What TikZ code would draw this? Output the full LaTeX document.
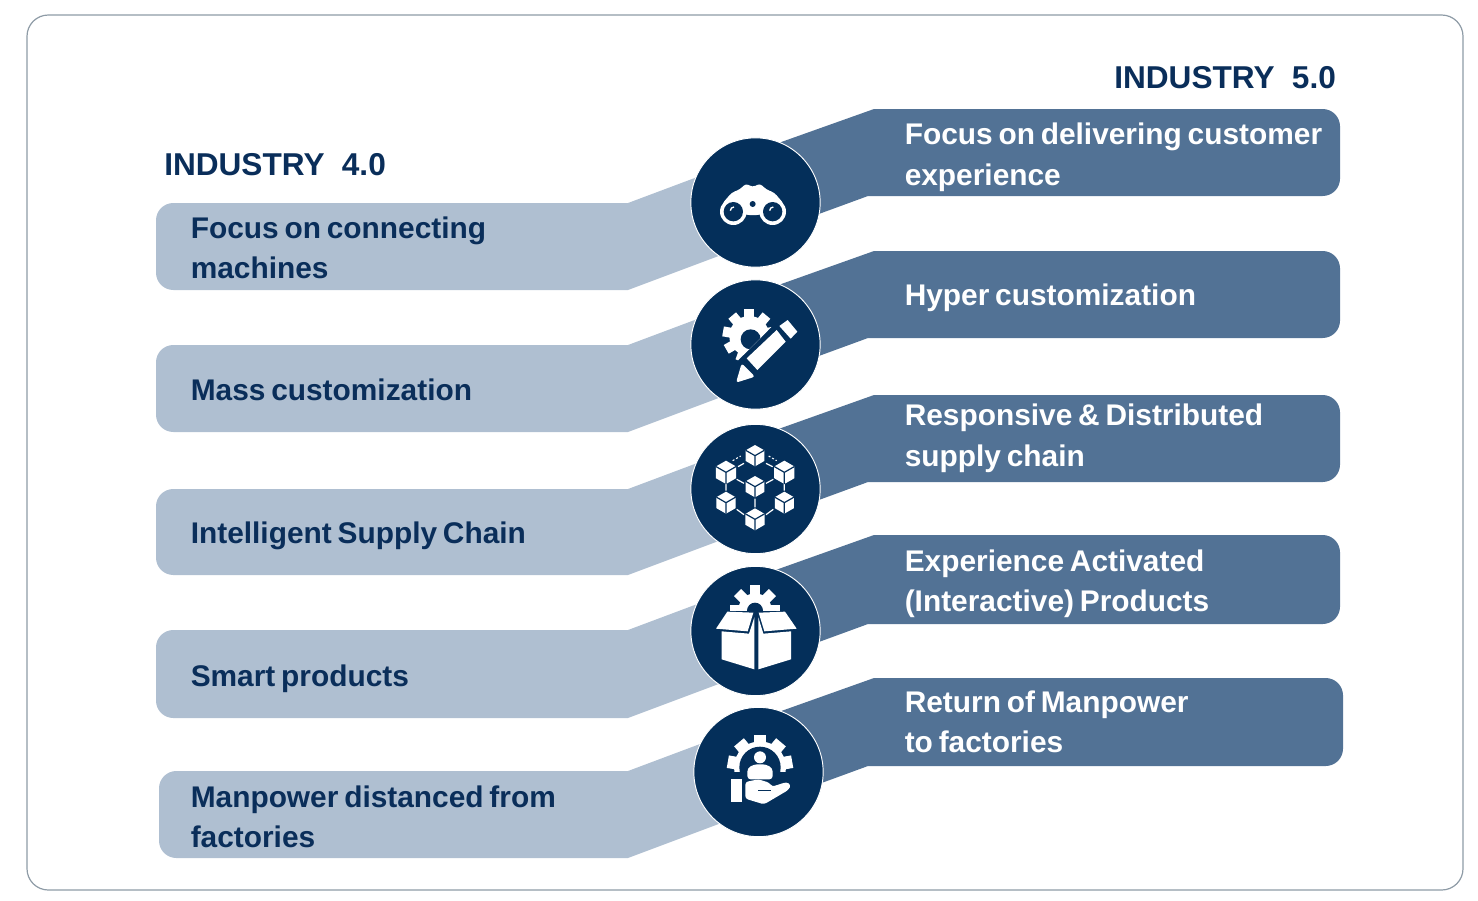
\documentclass[tikz,border=0pt]{standalone}
\usepackage{fontspec}
\setmainfont{Liberation Sans}[WordSpace=0.7]
\definecolor{navy}{HTML}{042F5A}
\definecolor{lightband}{HTML}{AFBFD1}
\definecolor{midband}{HTML}{527295}
\definecolor{txt}{HTML}{0A2E5A}
\definecolor{framec}{HTML}{8E9BA6}
\newcommand{\leftband}[3]{\fill[lightband] (756,#1-48) -- (628,#1) [rounded corners=13pt] -- (#3,#1) -- (#3,#2) [sharp corners] -- (628,#2) -- (756,#2-48) -- cycle;}
\newcommand{\rightband}[3]{\fill[midband] (756,#1+42) -- (874,#1) [rounded corners=13pt] -- (#3,#1) -- (#3,#2) [sharp corners] -- (868,#2) -- (756,#2+41) -- cycle;}
% centre x, centre y, outer, root, teeth, half-width of tooth
\newcommand{\gearshape}[6]{%
  \fill[white] (#1,#2) circle[radius=#4];
  \foreach \k in {1,...,#5}{\fill[white,rotate around={\k*360/#5:(#1,#2)}] (#1-#6,#2) rectangle (#1+#6,#2-#3);}
}
\newcommand{\cube}[3]{%
  \fill[white] (#1,#2-#3) -- (#1+.87*#3,#2-.5*#3) -- (#1+.87*#3,#2+.5*#3) -- (#1,#2+#3) -- (#1-.87*#3,#2+.5*#3) -- (#1-.87*#3,#2-.5*#3) -- cycle;
  \draw[navy,line width=.9pt] (#1-.87*#3,#2-.5*#3) -- (#1,#2) -- (#1+.87*#3,#2-.5*#3) (#1,#2) -- (#1,#2+#3);
}
\tikzset{
  zoomA/.style={shift={(620,100)},x=.25pt,y=-.25pt},
  zoomB/.style={shift={(620,420)},x=.25pt,y=-.25pt},
  disc/.style={circle,fill=navy,draw=white,line width=.7pt,minimum size=97pt,inner sep=0pt},
  label/.style={anchor=west,align=left,text=txt,font=\fontsize{22.4}{30.4}\selectfont\bfseries,inner sep=0pt},
  labelw/.style={label,text=white},
  heading/.style={anchor=west,text=txt,font=\fontsize{23.7}{26}\selectfont\bfseries,inner sep=0pt},
}
\begin{document}
\begin{tikzpicture}[x=.75pt,y=-.75pt]
\useasboundingbox (0,0) rectangle (1478,900);
\draw[framec,line width=.9pt,rounded corners=16pt] (27,15) rectangle (1463,890);

\leftband{203}{290}{156}
\leftband{345}{432}{156}
\leftband{489}{575}{156}
\leftband{630}{718}{156}
\leftband{771}{858}{159}
\rightband{109}{196}{1340}
\rightband{251}{338}{1340}
\rightband{395}{482}{1340}
\rightband{535}{624}{1340}
\rightband{678}{766}{1343}

\node[disc] (c1) at (755.5,202.5) {};
\node[disc] (c2) at (755.5,344.5) {};
\node[disc] (c3) at (755.5,489) {};
\node[disc] (c4) at (755.5,631) {};
\node[disc] (c5) at (758.5,772) {};

\node[heading] (h4) at (164,165) {INDUSTRY\hspace*{13pt}4.0};
\node[heading] (h5) at (1114,78) {INDUSTRY\hspace*{13pt}5.0};

\node[label] (l1) at (190.5,248) {Focus on connecting\\machines};
\node[label] (l2) at (190.5,390) {Mass customization};
\node[label] (l3) at (190.5,535.5) {Intelligent Supply Chain};
\node[label] (l4) at (190.5,678.5) {Smart products};
\node[label] (l5) at (190.5,817) {Manpower distanced from\\factories};

\node[labelw] (r1) at (904.5,157.5) {Focus on delivering customer\\experience};
\node[labelw] (r2) at (904.5,298) {Hyper customization};
\node[labelw] (r3) at (904.5,438.5) {Responsive \& Distributed\\supply chain};
\node[labelw] (r4) at (904.5,584) {Experience Activated\\(Interactive) Products};
\node[labelw] (r5) at (904.5,722) {Return of Manpower\\to factories};

% binoculars
\begin{scope}[zoomA]
  \fill[white] (340,335) circle[radius=40] (458,335) circle[radius=40];
  \fill[white,rounded corners=2.5pt] (306,312) -- (335,278) -- (360,268) -- (378,250) -- (398,262) -- (420,250) -- (438,268) -- (463,278) -- (492,312) -- (420,345) -- (378,345) -- cycle;
  \fill[navy] (340,335) circle[radius=29] (458,335) circle[radius=29] (398,312) circle[radius=9];
  \draw[white,line width=1pt] (331,332) arc[start angle=180,end angle=270,radius=11];
  \draw[white,line width=1pt] (449,332) arc[start angle=180,end angle=270,radius=11];
  \fill[navy] (384,356) rectangle (412,378);
\end{scope}

% gear and pencil
\begin{scope}[zoomA]
  \begin{scope}
    \clip (300,620) -- (465,620) -- (470,665) -- (345,790) -- (300,760) -- cycle;
    \gearshape{388}{708}{80}{60}{9}{15}
    \fill[navy] (392,718) circle[radius=30];
  \end{scope}
  \fill[white] (380,775) -- (470,690) -- (497,725) -- (412,810) -- cycle;
  \fill[white] (478,678) -- (503,660) -- (532,695) -- (512,716) -- cycle;
  \fill[white,rounded corners=2pt] (365,790) -- (405,830) -- (348,848) -- cycle;
\end{scope}

% cubes
\begin{scope}[zoomB]
  \draw[white,line width=.9pt] (354,140) -- (372,130) (438,130) -- (458,140)
     (318,192) -- (318,212) (493,192) -- (493,212)
     (350,178) -- (372,190) (438,190) -- (460,178)
     (405,236) -- (405,262) (350,268) -- (372,284) (438,284) -- (460,268);
  \draw[white,line width=.8pt,dash pattern=on 1.5pt off 1.5pt] (338,122) -- (362,108) (446,108) -- (470,122);
  \cube{405}{107}{32}
  \cube{318}{157}{35}
  \cube{493}{157}{35}
  \cube{405}{200}{32}
  \cube{318}{248}{33}
  \cube{493}{248}{33}
  \cube{405}{298}{33}
\end{scope}

% gear and box
\begin{scope}[zoomB]
  \begin{scope}
    \clip (320,480) rectangle (490,570);
    \gearshape{405}{570}{74}{50}{8}{15}
    \fill[navy] (405,572) circle[radius=24];
  \end{scope}
  \fill[white] (322,575) -- (400,578) -- (383,634) -- (288,626) -- cycle;
  \fill[white] (416,578) -- (495,575) -- (530,626) -- (433,634) -- cycle;
  \fill[white] (305,634) -- (387,641) -- (403,592) -- (403,748) -- (305,718) -- cycle;
  \fill[white] (415,592) -- (430,641) -- (513,634) -- (513,718) -- (415,748) -- cycle;
\end{scope}

% gear, person and hand
\begin{scope}[zoomB]
  \begin{scope}
    \clip (310,930) rectangle (530,1053);
    \gearshape{420}{1042}{98}{78}{9}{19}
    \fill[navy] (420,1042) circle[radius=62];
  \end{scope}
  \fill[white] (420,1012) circle[radius=18];
  \fill[white,rounded corners=2.5pt] (382,1078) -- (382,1045) -- (402,1033) -- (438,1033) -- (458,1045) -- (458,1078) -- cycle;
  \fill[white] (333,1078) rectangle (367,1147);
  \fill[white,rounded corners=2pt] (376,1086) -- (415,1078) -- (448,1088) -- (456,1100) -- (500,1086) -- (513,1095) -- (505,1110) -- (432,1153) -- (376,1136) -- cycle;
  \draw[navy,line width=.9pt] (415,1112) -- (452,1112);
\end{scope}
\end{tikzpicture}
\end{document}
